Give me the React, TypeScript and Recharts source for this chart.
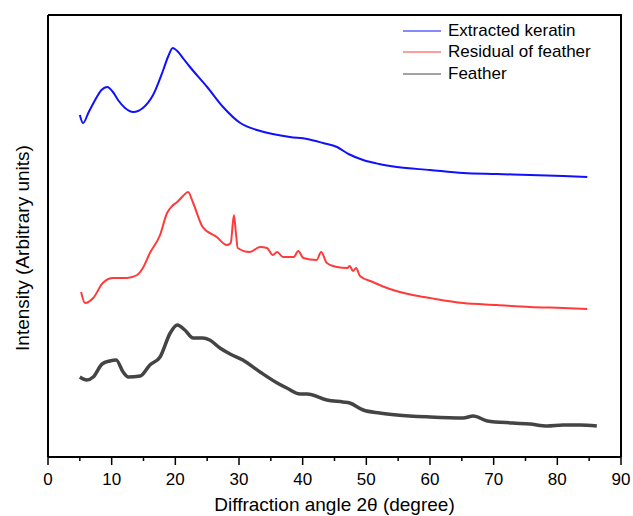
import { LineChart, Line, XAxis, YAxis, Legend, Label } from 'recharts';

// 2θ (degree) vs intensity (arbitrary units)
const keratinAngle = [5.0, 5.5, 6.4, 7.4, 8.4, 9.3, 10.2, 11.0, 12.1, 13.4, 14.9, 16.5, 18.1, 18.9, 19.6, 20.3, 21.3, 22.3, 25.0, 27.5, 30.2, 32.8, 35.3, 38.0, 40.7, 43.2, 45.4, 47.2, 49.5, 52.0, 54.8, 60.0, 65.2, 70.5, 75.7, 80.9, 84.7];
const keratinIntensity = [342, 334, 345, 357, 367, 370, 365, 357, 349, 345, 349, 362, 387, 401, 409, 406, 398, 390, 370, 350, 334, 327, 323, 320, 318, 314, 310, 303, 297, 293, 290, 287, 284, 283, 282, 281, 280];

const residualAngle = [5.2, 5.8, 7.1, 8.6, 10.2, 12.4, 14.0, 14.9, 16.0, 17.6, 18.7, 19.5, 20.3, 21.2, 22.0, 22.8, 24.3, 26.5, 28.1, 28.7, 29.2, 29.5, 29.8, 31.7, 33.3, 34.4, 35.3, 36.0, 36.9, 38.6, 39.3, 40.1, 42.2, 42.9, 43.8, 45.4, 47.0, 47.4, 47.9, 48.4, 49.0, 51.0, 53.7, 57.3, 60.0, 65.2, 70.5, 75.7, 80.9, 84.7];
const residualIntensity = [165, 154, 159, 174, 179, 179, 182, 189, 204, 222, 244, 251, 255, 261, 265, 254, 230, 220, 212, 214, 242, 225, 209, 205, 210, 209, 202, 205, 200, 200, 206, 199, 197, 205, 194, 190, 189, 191, 186, 189, 181, 175, 168, 162, 159, 154, 152, 150, 149, 148];

const featherAngle = [5.0, 6.1, 7.1, 8.5, 9.7, 10.7, 11.8, 12.6, 14.5, 16.0, 17.6, 19.2, 20.3, 21.5, 22.8, 24.3, 25.4, 27.0, 28.6, 30.6, 33.3, 36.0, 37.5, 39.6, 40.7, 43.8, 46.3, 47.4, 49.5, 52.1, 54.8, 60.0, 65.2, 66.8, 69.0, 73.0, 75.7, 78.4, 80.9, 83.6, 86.2];
const featherIntensity = [80, 77, 80, 93, 96, 97, 85, 80, 81, 92, 100, 124, 132, 127, 119, 119, 117, 109, 103, 97, 85, 74, 69, 63, 63, 57, 55, 54, 47, 44, 42, 40, 39, 41, 36, 34, 33, 31, 32, 32, 31];

const seriesNames = ['Extracted keratin', 'Residual of feather', 'Feather'];

const angleTicks = [0, 5, 10, 15, 20, 25, 30, 35, 40, 45, 50, 55, 60, 65, 70, 75, 80, 85, 90];
const angleMax = 90;
const intensityMax = 442;

const FONT = '"Liberation Sans", Arial, sans-serif';
const CHART_W = 633;
const CHART_H = 516;
const MARGIN = { top: 15, right: 12, bottom: 0, left: 0 };
const Y_AXIS_W = 48;
const X_AXIS_H = 59;

const toRows = (angle: number[], intensity: number[]) =>
  angle.map((a, i) => ({ angle: a, intensity: intensity[i] }));

function AngleTick({ x, y, payload }: any) {
  const major = payload.value % 10 === 0;
  const last = payload.value === angleMax;
  const plotLeft = MARGIN.left + Y_AXIS_W;
  return (
    <g>
      {/* the last tick also closes the box: right edge and top edge */}
      {last && (
        <path
          d={`M${plotLeft},${MARGIN.top} L${x},${MARGIN.top} L${x},${y}`}
          fill="none"
          stroke="#000"
          strokeWidth={2}
        />
      )}
      <line x1={x} y1={y} x2={x} y2={y + (major ? 8 : 4)} stroke="#000" strokeWidth={1.5} />
      {major && (
        <text x={x} y={y + 28} textAnchor="middle" fontSize={17} fontFamily={FONT} fill="#000">
          {payload.value}
        </text>
      )}
    </g>
  );
}

function YTitle({ viewBox }: any) {
  const cx = 22;
  const cy = viewBox.y + viewBox.height / 2 + 12;
  return (
    <text
      x={cx}
      y={cy}
      transform={`rotate(-90 ${cx} ${cy})`}
      textAnchor="middle"
      dominantBaseline="central"
      fontFamily={FONT}
      fontSize={19}
      fill="#000"
    >
      Intensity (Arbitrary units)
    </text>
  );
}

function LegendBox({ payload }: any) {
  const items = [...(payload || [])].sort(
    (a: any, b: any) => seriesNames.indexOf(a.value) - seriesNames.indexOf(b.value)
  );
  return (
    <div style={{ fontFamily: FONT, fontSize: 17, color: '#000' }}>
      {items.map((entry: any) => (
        <div key={entry.value} style={{ display: 'flex', alignItems: 'center', height: 21.5 }}>
          <svg width={38} height={4} style={{ marginRight: 7 }}>
            <line x1={0} y1={2} x2={38} y2={2} stroke={entry.color} strokeWidth={1} />
          </svg>
          <span>{entry.value}</span>
        </div>
      ))}
    </div>
  );
}

const frameLine = { stroke: '#000', strokeWidth: 2 };

export default function App() {
  return (
    <div style={{ position: 'absolute', left: 0, top: 0, background: '#fff' }}>
      <LineChart width={CHART_W} height={CHART_H} margin={MARGIN}>
        <XAxis
          dataKey="angle"
          type="number"
          domain={[0, angleMax]}
          ticks={angleTicks}
          interval={0}
          axisLine={frameLine}
          tickLine={false}
          tickSize={0}
          tickMargin={0}
          tick={<AngleTick />}
          height={X_AXIS_H}
          allowDuplicatedCategory={false}
        >
          <Label
            value="Diffraction angle 2θ (degree)"
            position="insideBottom"
            offset={5}
            style={{ fontFamily: FONT, fontSize: 19, fill: '#000' }}
          />
        </XAxis>
        <YAxis
          type="number"
          domain={[0, intensityMax]}
          width={Y_AXIS_W}
          axisLine={frameLine}
          tickLine={false}
          tick={false}
        >
          <Label content={(props: any) => <YTitle {...props} />} />
        </YAxis>
        <Line
          data={toRows(keratinAngle, keratinIntensity)}
          dataKey="intensity"
          name={seriesNames[0]}
          type="monotone"
          stroke="#1010ff"
          strokeWidth={2}
          dot={false}
          isAnimationActive={false}
        />
        <Line
          data={toRows(residualAngle, residualIntensity)}
          dataKey="intensity"
          name={seriesNames[1]}
          type="monotone"
          stroke="#ff3a3a"
          strokeWidth={2}
          dot={false}
          isAnimationActive={false}
        />
        <Line
          data={toRows(featherAngle, featherIntensity)}
          dataKey="intensity"
          name={seriesNames[2]}
          type="monotone"
          stroke="#444444"
          strokeWidth={3.5}
          dot={false}
          isAnimationActive={false}
        />
        <Legend
          layout="vertical"
          align="center"
          verticalAlign="middle"
          content={<LegendBox />}
          wrapperStyle={{ position: 'absolute', left: 403, top: 20, width: 200 }}
        />
      </LineChart>
    </div>
  );
}
